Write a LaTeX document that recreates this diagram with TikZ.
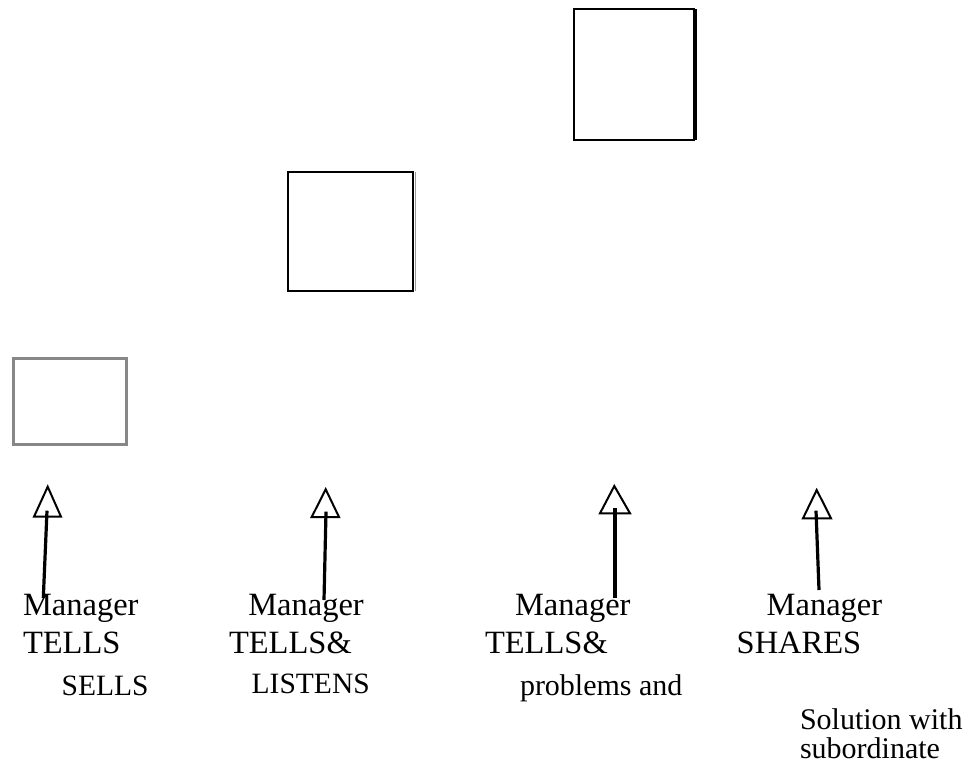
\documentclass[tikz,border=0pt]{standalone}
\usepackage{fontspec}
\setmainfont{Liberation Serif}
\begin{document}
\begin{tikzpicture}[x=1pt,y=-1pt,
  lbl/.style={anchor=base west,inner sep=0pt,outer sep=0pt},
  big/.style={lbl,font=\fontsize{32.5}{38}\selectfont},
  mid/.style={lbl,font=\fontsize{29.5}{34}\selectfont},
  sml/.style={lbl,font=\fontsize{30}{34}\selectfont},
  tri/.style={draw=black,line width=2pt,line join=miter,fill=white},
  shaft/.style={draw=black,line width=3.2pt},
  sq/.style={draw=black,line width=2.2pt,inner sep=0pt,outer sep=0pt}]
\useasboundingbox (0,0) rectangle (976,766);
% boxes
\node[draw=black!47,line width=3pt,minimum width=113pt,minimum height=86pt,inner sep=0pt] (b1) at (69.5,401) {};
\node[sq,minimum width=125pt,minimum height=119pt] (b2) at (350.5,231.5) {};
\draw[black!40,line width=1pt] (b2.north east) ++(2.5,0) coordinate (b2r1) -- (b2.south east -| b2r1);
\node[sq,minimum width=120pt,minimum height=131pt] (b3) at (634,74.5) {};
\draw[black,line width=2pt] (b3.north east) ++(1.5,0) coordinate (b3r1) -- (b3.south east -| b3r1);
% arrows
\coordinate (s1) at (43.3,598); \coordinate (e1) at (47,510.7);
\coordinate (s2) at (324,600);  \coordinate (e2) at (326,511.7);
\coordinate (s3) at (615,598);  \coordinate (e3) at (615,507.7);
\coordinate (s4) at (819,590);  \coordinate (e4) at (816,510.7);
\path[tri] (47.7,486.7) coordinate (t1) -- (34,516.7) -- (61,516.7) -- cycle;
\path[tri] (325.7,489.3) coordinate (t2) -- (311.7,517) -- (339,517) -- cycle;
\path[tri] (614.3,486) coordinate (t3) -- (600,513.3) -- (630,513.3) -- cycle;
\path[tri] (816.7,490) coordinate (t4) -- (803,518.3) -- (831,518.3) -- cycle;
\draw[shaft] (s1) -- (e1);
\draw[shaft] (s2) -- (e2);
\draw[shaft] (s3) -- (e3);
\draw[shaft] (s4) -- (e4);
% texts
\node[big] (m1) at (23,615) {Manager};
\node[big] (k1) at (23,653) {TELLS};
\node[mid] (c1) at (61.7,695) {SELLS};
\node[big] (m2) at (248.3,615) {Manager};
\node[big] (k2) at (229,653) {TELLS\&};
\node[mid] (c2) at (251.7,693.3) {LISTENS};
\node[big] (m3) at (515,615) {Manager};
\node[big] (k3) at (485,653) {TELLS\&};
\node[sml] (c3) at (520,695) {problems and};
\node[big] (m4) at (766.7,615) {Manager};
\node[big] (k4) at (736.7,653) {SHARES};
\node[sml] (c4) at (800,729) {Solution with};
\node[sml] (d4) at (800,758) {subordinate};
\end{tikzpicture}
\end{document}
